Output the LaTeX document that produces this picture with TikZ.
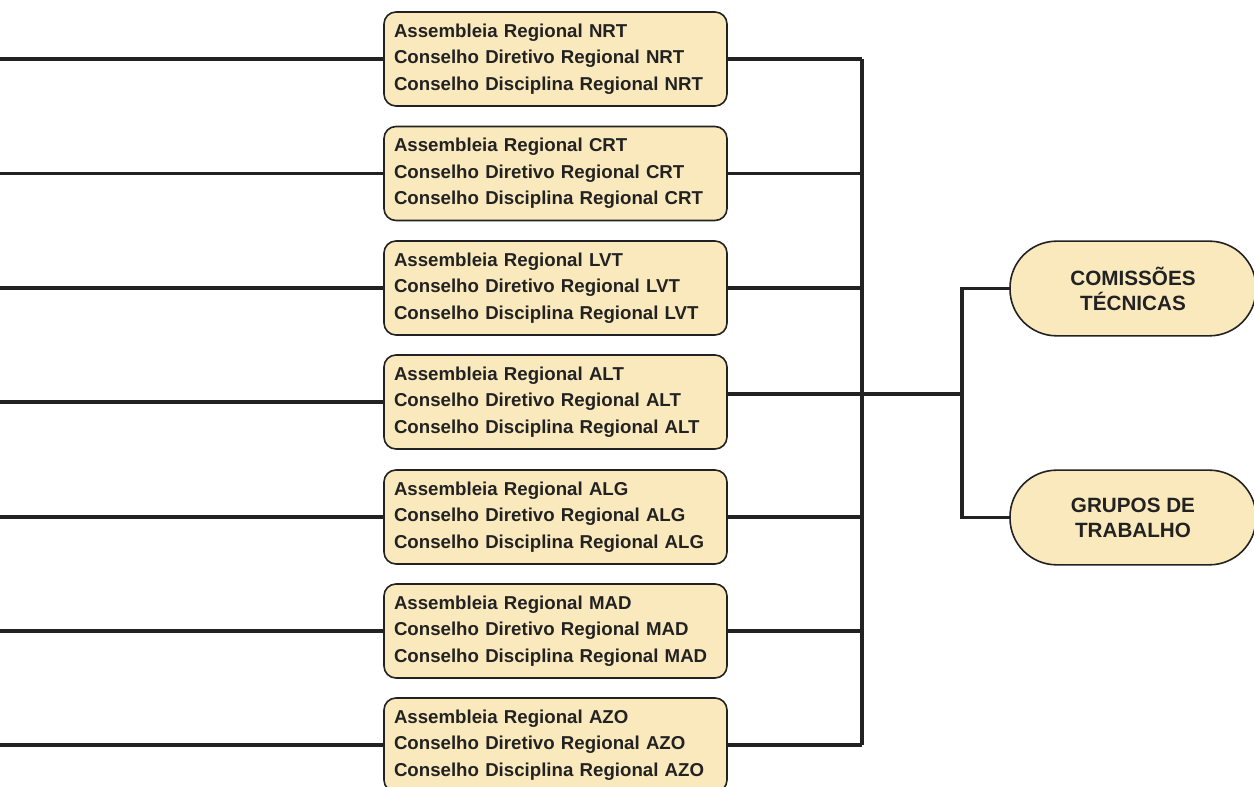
\documentclass[tikz,border=0pt]{standalone}
\usepackage{fontspec}
\setmainfont{Liberation Sans}
\definecolor{boxfill}{HTML}{F9E9BD}
\definecolor{linec}{HTML}{222222}
\begin{document}
\begin{tikzpicture}[x=0.75pt,y=-0.75pt,
  regbox/.style={draw=linec, fill=boxfill, line width=1.2pt, rounded corners=9pt,
    minimum height=70.5pt, inner xsep=7.5pt, inner ysep=0pt, text width=242.25pt,
    align=left, text=linec, font=\bfseries\fontsize{14}{19.9}\selectfont},
  pill/.style={draw=linec, fill=boxfill, line width=1.2pt, rounded corners=35pt,
    minimum width=184.5pt, minimum height=71pt, inner sep=0pt, align=center,
    text=linec, font=\bfseries\fontsize{15.5}{18.75}\selectfont},
  conn/.style={draw=linec, line width=2.4pt}]
\useasboundingbox (0,0) rectangle (1254,787);
% region boxes
\node[regbox] (r1) at (555.5,59) {Assembleia Regional NRT\\Conselho Diretivo Regional NRT\\Conselho Disciplina Regional NRT};
\node[regbox] (r2) at (555.5,173.5) {Assembleia Regional CRT\\Conselho Diretivo Regional CRT\\Conselho Disciplina Regional CRT};
\node[regbox] (r3) at (555.5,288) {Assembleia Regional LVT\\Conselho Diretivo Regional LVT\\Conselho Disciplina Regional LVT};
\node[regbox] (r4) at (555.5,402) {Assembleia Regional ALT\\Conselho Diretivo Regional ALT\\Conselho Disciplina Regional ALT};
\node[regbox] (r5) at (555.5,517) {Assembleia Regional ALG\\Conselho Diretivo Regional ALG\\Conselho Disciplina Regional ALG};
\node[regbox] (r6) at (555.5,631) {Assembleia Regional MAD\\Conselho Diretivo Regional MAD\\Conselho Disciplina Regional MAD};
\node[regbox] (r7) at (555.5,745) {Assembleia Regional AZO\\Conselho Diretivo Regional AZO\\Conselho Disciplina Regional AZO};
% pills
\node[pill] (ct) at (1133,288.5) {COMISSÕES\\TÉCNICAS};
\node[pill] (gt) at (1133,517.5) {GRUPOS DE\\TRABALHO};
% coordinates
\coordinate (bt) at (862,59);
\coordinate (bb) at (862,745);
\coordinate (j) at (862,394);
\coordinate (k) at (962,394);
\foreach \i/\y in {1/59,2/173.5,3/288,4/402,5/517,6/631,7/745}{
  \coordinate (L\i) at (0,\y);
}
% left lines
\foreach \i in {1,...,7}{
  \draw[conn] (L\i) -- (r\i.west);
}
% right lines
\foreach \i in {1,2,3,5,6,7}{
  \draw[conn] (r\i.east) -- (r\i.east -| bt);
}
\draw[conn] (r4.east |- j) -- (j) -- (k);
\draw[conn] (bt) -- (bb);
\draw[conn] (ct.west) -- (ct.west -| k) -- (gt.west -| k) -- (gt.west);
\end{tikzpicture}
\end{document}
